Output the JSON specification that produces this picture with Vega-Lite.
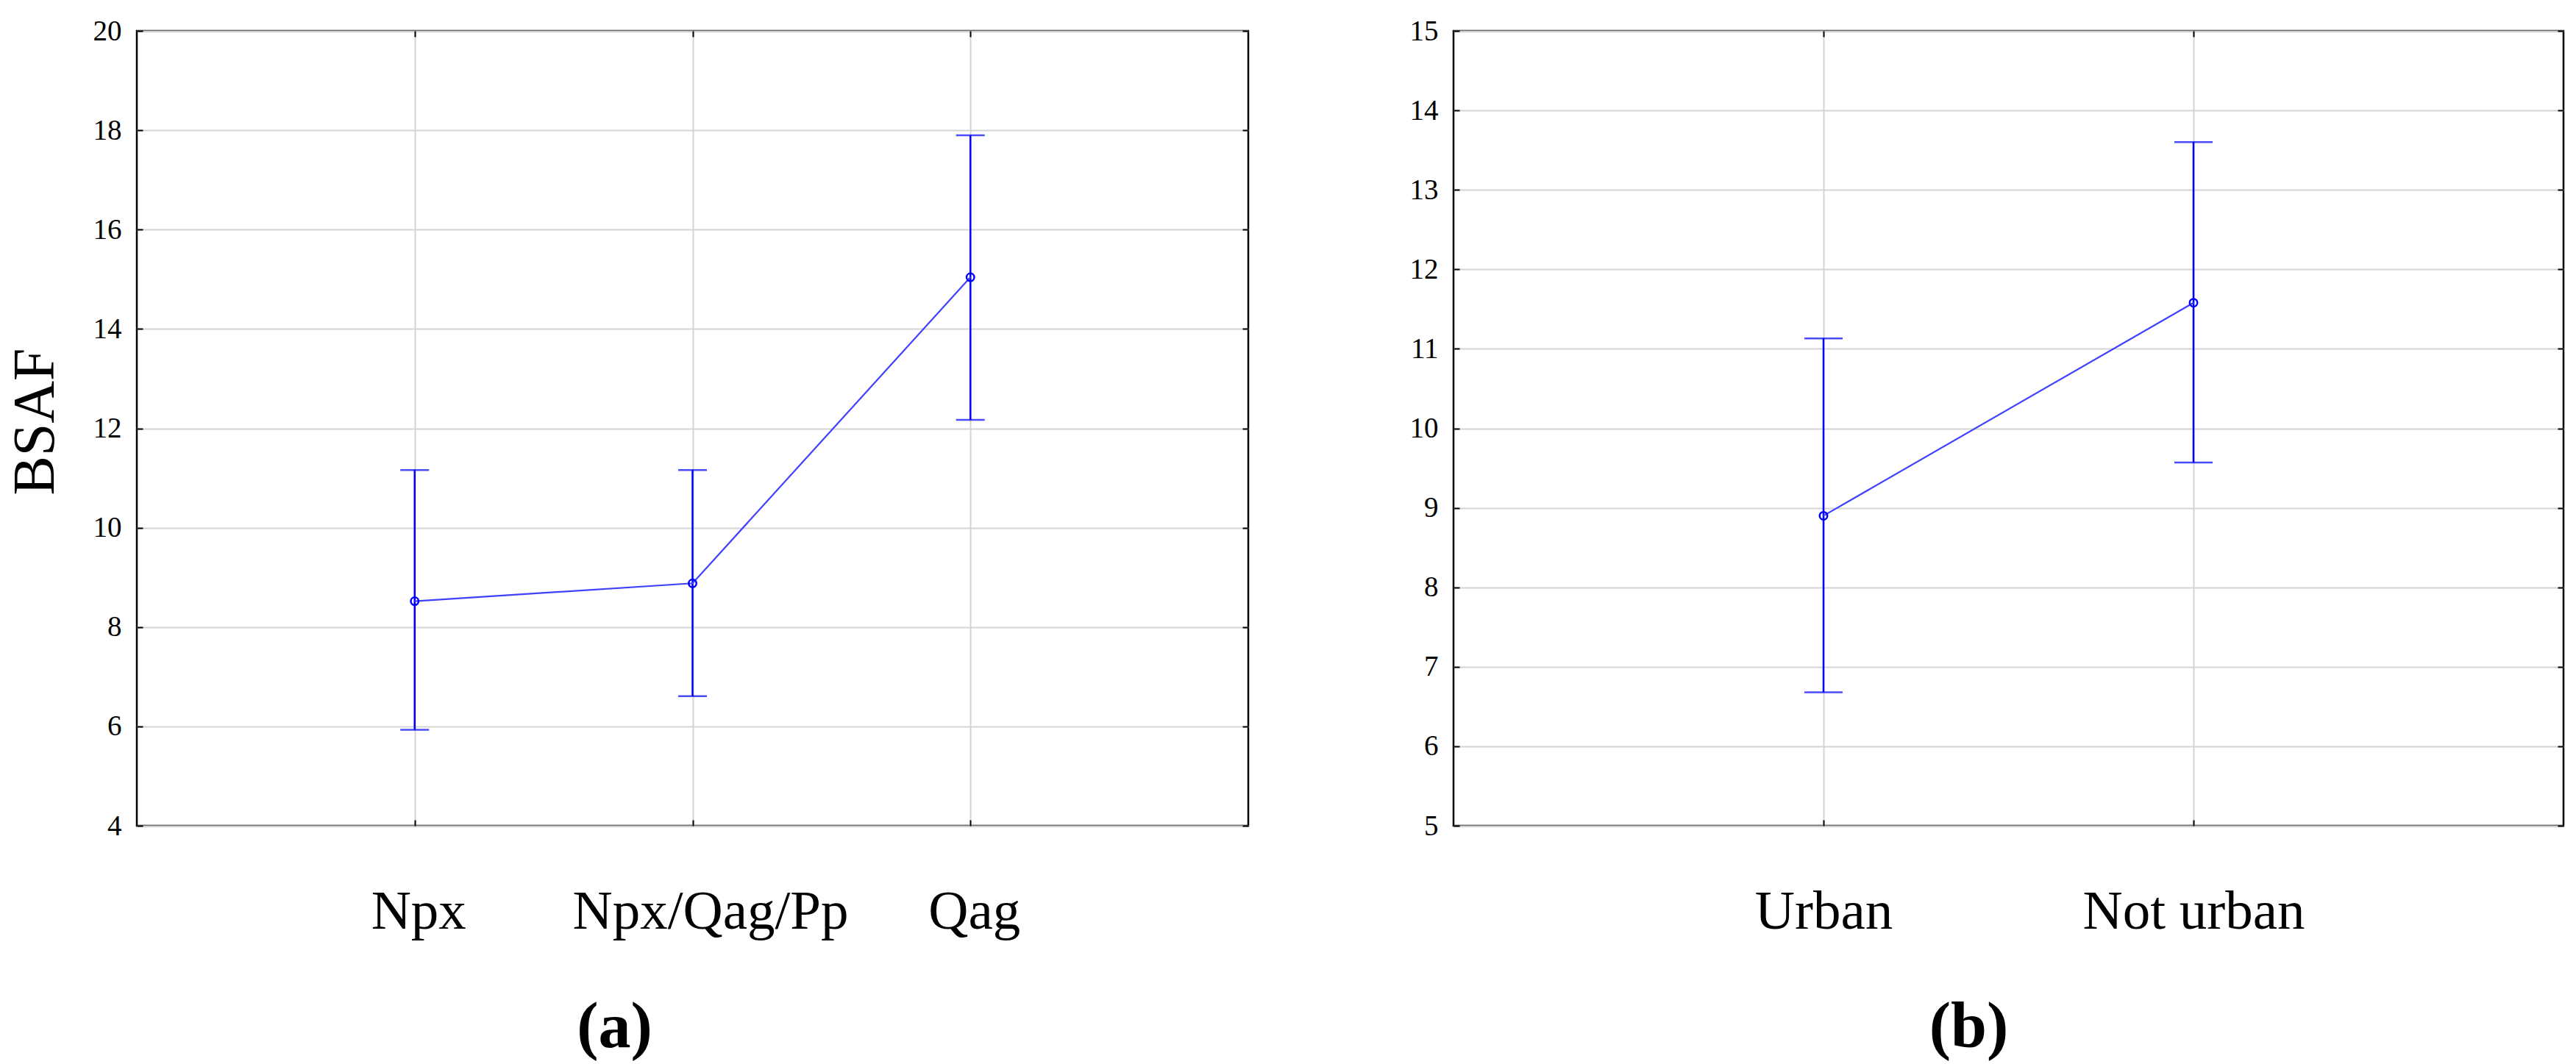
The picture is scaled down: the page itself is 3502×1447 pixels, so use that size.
{
  "$schema": "https://vega.github.io/schema/vega-lite/v6.json",
  "padding": {"left": 6, "top": 21, "right": 0, "bottom": 0},
  "background": "white",
  "spacing": 279,
  "bounds": "flush",
  "config": {
    "view": {"stroke": "black", "strokeWidth": 2.5},
    "axis": {"domain": false, "gridColor": "#d4d4d4", "gridWidth": 2, "tickColor": "black", "tickWidth": 2, "labelColor": "black", "titleColor": "black", "labelOverlap": false, "labelFlush": false, "labelLimit": 0}
  },
  "hconcat": [
    {
      "width": 1511,
      "height": 1081,
      "data": {"values": [
        {"group": "Npx", "mean": 8.52, "lower": 5.93, "upper": 11.16},
        {"group": "Npx/Qag/Pp", "mean": 8.88, "lower": 6.61, "upper": 11.16},
        {"group": "Qag", "mean": 15.04, "lower": 12.17, "upper": 17.90}
      ]},
      "layer": [
        {
          "mark": {"type": "rule", "color": "#0000ff", "strokeWidth": 2.5},
          "encoding": {
            "x": {"field": "group", "type": "nominal", "sort": ["Npx", "Npx/Qag/Pp", "Qag"], "scale": {"type": "point", "padding": 1},
              "axis": {"orient": "bottom", "labelFont": "Liberation Serif", "labelFontSize": 75, "labelAngle": 0, "labelBaseline": "alphabetic", "labelPadding": 147, "tickSize": -8, "grid": true,
                "labelOffset": {"condition": {"test": "datum.value === 'Npx/Qag/Pp'", "value": 24}, "value": 5},
                "title": "(a)", "titleFont": "Liberation Serif", "titleFontSize": 88, "titleFontWeight": "bold", "titleX": 649, "titleY": 300, "titleAlign": "center", "titleBaseline": "alphabetic"}},
            "y": {"field": "lower", "type": "quantitative", "scale": {"domain": [4, 20], "nice": false, "zero": false},
              "axis": {"orient": "left", "values": [4, 6, 8, 10, 12, 14, 16, 18, 20], "grid": true, "tickSize": -8, "labelFont": "Liberation Sans Narrow", "labelFontSize": 39, "labelPadding": 29,
                "title": "BSAF", "titleFont": "Liberation Serif", "titleFontSize": 80, "titleFontWeight": "normal", "titleAngle": -90, "titleX": -138, "titleY": 531, "titleAlign": "center", "titleBaseline": "middle"}},
            "y2": {"field": "upper"}
          }
        },
        {
          "mark": {"type": "tick", "color": "#0000ff", "size": 39, "thickness": 2.5, "orient": "horizontal"},
          "encoding": {
            "x": {"field": "group", "type": "nominal", "sort": ["Npx", "Npx/Qag/Pp", "Qag"], "scale": {"type": "point", "padding": 1},
              "axis": {"orient": "top", "labels": false, "grid": false, "tickSize": -8, "title": null}},
            "y": {"field": "lower", "type": "quantitative", "scale": {"domain": [4, 20], "nice": false, "zero": false},
              "axis": {"orient": "right", "values": [4, 6, 8, 10, 12, 14, 16, 18, 20], "labels": false, "grid": false, "tickSize": -8, "title": null}}
          }
        },
        {
          "mark": {"type": "tick", "color": "#0000ff", "size": 39, "thickness": 2.5, "orient": "horizontal"},
          "encoding": {
            "x": {"field": "group", "type": "nominal", "sort": ["Npx", "Npx/Qag/Pp", "Qag"], "scale": {"type": "point", "padding": 1}, "axis": null},
            "y": {"field": "upper", "type": "quantitative", "scale": {"domain": [4, 20], "nice": false, "zero": false}, "axis": null}
          }
        },
        {
          "mark": {"type": "line", "color": "#4040ff", "strokeWidth": 2.2},
          "encoding": {
            "x": {"field": "group", "type": "nominal", "sort": ["Npx", "Npx/Qag/Pp", "Qag"], "scale": {"type": "point", "padding": 1}, "axis": null},
            "y": {"field": "mean", "type": "quantitative", "scale": {"domain": [4, 20], "nice": false, "zero": false}, "axis": null}
          }
        },
        {
          "mark": {"type": "point", "shape": "circle", "filled": false, "color": "#0000ff", "strokeWidth": 2.5, "size": 110, "opacity": 1},
          "encoding": {
            "x": {"field": "group", "type": "nominal", "sort": ["Npx", "Npx/Qag/Pp", "Qag"], "scale": {"type": "point", "padding": 1}, "axis": null},
            "y": {"field": "mean", "type": "quantitative", "scale": {"domain": [4, 20], "nice": false, "zero": false}, "axis": null}
          }
        }
      ],
      "resolve": {"axis": {"x": "independent", "y": "independent"}}
    },
    {
      "width": 1509,
      "height": 1081,
      "data": {"values": [
        {"group": "Urban", "mean": 8.90, "lower": 6.68, "upper": 11.13},
        {"group": "Not urban", "mean": 11.58, "lower": 9.57, "upper": 13.60}
      ]},
      "layer": [
        {
          "mark": {"type": "rule", "color": "#0000ff", "strokeWidth": 2.5},
          "encoding": {
            "x": {"field": "group", "type": "nominal", "sort": ["Urban", "Not urban"], "scale": {"type": "point", "padding": 1},
              "axis": {"orient": "bottom", "labelFont": "Liberation Serif", "labelFontSize": 75, "labelAngle": 0, "labelBaseline": "alphabetic", "labelPadding": 147, "tickSize": -8, "grid": true,
                "title": "(b)", "titleFont": "Liberation Serif", "titleFontSize": 88, "titleFontWeight": "bold", "titleX": 700, "titleY": 300, "titleAlign": "center", "titleBaseline": "alphabetic"}},
            "y": {"field": "lower", "type": "quantitative", "scale": {"domain": [5, 15], "nice": false, "zero": false},
              "axis": {"orient": "left", "values": [5, 6, 7, 8, 9, 10, 11, 12, 13, 14, 15], "grid": true, "tickSize": -8, "labelFont": "Liberation Sans Narrow", "labelFontSize": 39, "labelPadding": 29, "title": null}},
            "y2": {"field": "upper"}
          }
        },
        {
          "mark": {"type": "tick", "color": "#0000ff", "size": 52, "thickness": 2.5, "orient": "horizontal"},
          "encoding": {
            "x": {"field": "group", "type": "nominal", "sort": ["Urban", "Not urban"], "scale": {"type": "point", "padding": 1},
              "axis": {"orient": "top", "labels": false, "grid": false, "tickSize": -8, "title": null}},
            "y": {"field": "lower", "type": "quantitative", "scale": {"domain": [5, 15], "nice": false, "zero": false},
              "axis": {"orient": "right", "values": [5, 6, 7, 8, 9, 10, 11, 12, 13, 14, 15], "labels": false, "grid": false, "tickSize": -8, "title": null}}
          }
        },
        {
          "mark": {"type": "tick", "color": "#0000ff", "size": 52, "thickness": 2.5, "orient": "horizontal"},
          "encoding": {
            "x": {"field": "group", "type": "nominal", "sort": ["Urban", "Not urban"], "scale": {"type": "point", "padding": 1}, "axis": null},
            "y": {"field": "upper", "type": "quantitative", "scale": {"domain": [5, 15], "nice": false, "zero": false}, "axis": null}
          }
        },
        {
          "mark": {"type": "line", "color": "#4040ff", "strokeWidth": 2.2},
          "encoding": {
            "x": {"field": "group", "type": "nominal", "sort": ["Urban", "Not urban"], "scale": {"type": "point", "padding": 1}, "axis": null},
            "y": {"field": "mean", "type": "quantitative", "scale": {"domain": [5, 15], "nice": false, "zero": false}, "axis": null}
          }
        },
        {
          "mark": {"type": "point", "shape": "circle", "filled": false, "color": "#0000ff", "strokeWidth": 2.5, "size": 110, "opacity": 1},
          "encoding": {
            "x": {"field": "group", "type": "nominal", "sort": ["Urban", "Not urban"], "scale": {"type": "point", "padding": 1}, "axis": null},
            "y": {"field": "mean", "type": "quantitative", "scale": {"domain": [5, 15], "nice": false, "zero": false}, "axis": null}
          }
        }
      ],
      "resolve": {"axis": {"x": "independent", "y": "independent"}}
    }
  ]
}
